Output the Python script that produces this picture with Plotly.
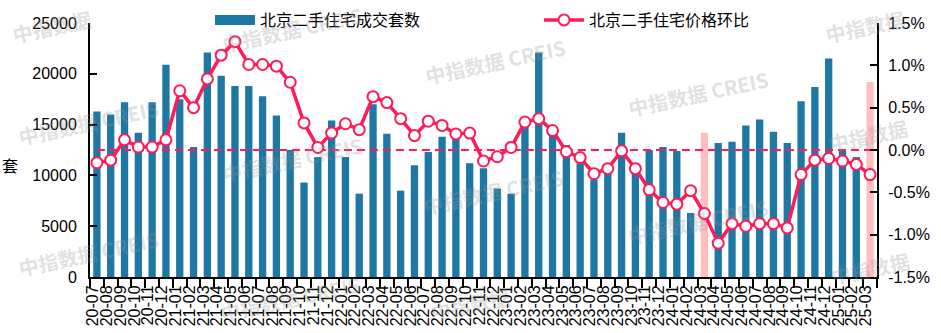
import plotly.graph_objects as go

# Month labels (YY-MM)
months = [
    "20-07", "20-08", "20-09", "20-10", "20-11", "20-12",
    "21-01", "21-02", "21-03", "21-04", "21-05", "21-06",
    "21-07", "21-08", "21-09", "21-10", "21-11", "21-12",
    "22-01", "22-02", "22-03", "22-04", "22-05", "22-06",
    "22-07", "22-08", "22-09", "22-10", "22-11", "22-12",
    "23-01", "23-02", "23-03", "23-04", "23-05", "23-06",
    "23-07", "23-08", "23-09", "23-10", "23-11", "23-12",
    "24-01", "24-02", "24-03", "24-04", "24-05", "24-06",
    "24-07", "24-08", "24-09", "24-10", "24-11", "24-12",
    "25-01", "25-02", "25-03",
]

# 北京二手住宅成交套数 (套)
volumes = [
    16300, 16000, 17200, 14200, 17200, 20900,
    17500, 12800, 22100, 19800, 18800, 18800,
    17800, 15900, 12500, 9300, 11800, 15400,
    11800, 8200, 17000, 14100, 8500, 11000,
    12300, 13800, 13700, 11200, 10700, 8700,
    8200, 14900, 22100, 13900, 13000, 11200,
    9600, 10600, 14200, 11000, 12500, 12800,
    12400, 6300, 14200, 13200, 13300, 14900,
    15500, 14300, 13200, 17300, 18700, 21500,
    12400, 11800, 19200,
]

# 北京二手住宅价格环比 (%)
mom_pct = [
    -0.15, -0.12, 0.12, 0.035, 0.035, 0.12,
    0.70, 0.50, 0.84, 1.12, 1.28, 1.01,
    1.01, 0.99, 0.80, 0.32, 0.03, 0.20,
    0.31, 0.24, 0.63, 0.56, 0.37, 0.17,
    0.34, 0.29, 0.19, 0.20, -0.13, -0.08,
    0.03, 0.33, 0.37, 0.23, -0.02, -0.09,
    -0.28, -0.22, -0.01, -0.22, -0.47, -0.62,
    -0.64, -0.48, -0.75, -1.10, -0.87, -0.90,
    -0.87, -0.87, -0.92, -0.29, -0.12, -0.10,
    -0.13, -0.17, -0.29,
]

# Same-month bars shown in a lighter colour
highlight_months = ["24-03", "25-03"]

left_ticks = [0, 5000, 10000, 15000, 20000, 25000]
left_tick_text = ["0", "5000", "10000", "15000", "20000", "25000"]
right_ticks = [-1.5, -1.0, -0.5, 0.0, 0.5, 1.0, 1.5]
right_tick_text = ["-1.5%", "-1.0%", "-0.5%", "0.0%", "0.5%", "1.0%", "1.5%"]

BLUE = "#1F78A3"
PINK = "#FFBFBF"
RED = "#FF1A58"
FONT = "Liberation Sans, Arial, Noto Sans CJK SC, sans-serif"
CJK = "Noto Sans CJK SC, Liberation Sans, sans-serif"

W, H = 941, 333
M_L, M_R, M_T, M_B = 90, 64, 23, 56
PW, PH = W - M_L - M_R, H - M_T - M_B


def px_to_paper(px, py):
    return (px - M_L) / PW, (H - M_B - py) / PH


bar_colors = [PINK if m in highlight_months else BLUE for m in months]

fig = go.Figure()

fig.add_trace(go.Bar(
    x=months, y=volumes, yaxis="y", width=0.53,
    marker=dict(color=bar_colors, line_width=0),
    showlegend=False, name="北京二手住宅成交套数",
))

# zero reference on the price axis
fig.add_trace(go.Scatter(
    x=months, y=[0] * len(months), yaxis="y2", mode="lines",
    line=dict(color=RED, width=2, dash="8px,5px"),
    showlegend=False, hoverinfo="skip",
))

fig.add_trace(go.Scatter(
    x=months, y=mom_pct, yaxis="y2", mode="lines+markers",
    name="北京二手住宅价格环比", legend="legend2",
    line=dict(color=RED, width=3.5),
    marker=dict(symbol="circle", size=11, color="white",
                line=dict(color=RED, width=2)),
))

# wide legend key for the bar series
fig.add_trace(go.Scatter(
    x=[None], y=[None], yaxis="y", mode="lines",
    name="北京二手住宅成交套数", legend="legend",
    line=dict(color=BLUE, width=10),
))

# watermark grid: (centre x, centre y, text) in page pixels
WM_FULL = "<b>中指数据 CREIS</b>"
WM_SHORT = "<b>中指数据</b>"
watermarks = [
    (52, 27, WM_SHORT), (88, 122, WM_FULL), (88, 253, WM_FULL),
    (292, 30, WM_FULL), (292, 160, WM_FULL), (290, 298, WM_FULL),
    (495, 62, WM_FULL), (494, 192, WM_FULL), (470, 304, WM_SHORT),
    (698, 94, WM_FULL), (698, 222, WM_FULL),
    (865, 27, WM_SHORT), (868, 135, WM_SHORT), (870, 268, WM_SHORT),
]
annotations = []
for cx, cy, txt in watermarks:
    ax_, ay_ = px_to_paper(cx, cy)
    annotations.append(dict(
        text=txt, x=ax_, y=ay_, xref="paper", yref="paper",
        xanchor="center", yanchor="middle", showarrow=False, textangle=-12,
        font=dict(family=CJK, size=20, color="rgba(150,150,150,0.30)"),
    ))

tx, ty = px_to_paper(10, 165)
annotations.append(dict(
    text="套", x=tx, y=ty, xref="paper", yref="paper",
    xanchor="center", yanchor="middle", showarrow=False,
    font=dict(family=CJK, size=16, color="black"),
))

l1x, l1y = px_to_paper(210, 3)
l2x, l2y = px_to_paper(539, 3)

fig.update_layout(
    width=W, height=H,
    margin=dict(l=M_L, r=M_R, t=M_T, b=M_B, autoexpand=False),
    paper_bgcolor="white", plot_bgcolor="white",
    font=dict(family=FONT, size=16, color="black"),
    legend=dict(x=l1x, y=l1y, xanchor="left", yanchor="top",
                orientation="h", bgcolor="rgba(0,0,0,0)", itemwidth=40,
                font=dict(family=CJK, size=16, color="black")),
    legend2=dict(x=l2x, y=l2y, xanchor="left", yanchor="top",
                 orientation="h", bgcolor="rgba(0,0,0,0)", itemwidth=40,
                 font=dict(family=CJK, size=16, color="black")),
    xaxis=dict(
        type="category", categoryorder="array", categoryarray=months,
        range=[-0.5, len(months) - 0.5], automargin=False,
        tickmode="linear", tick0=0, dtick=1,
        tickangle=-90, tickson="boundaries", ticks="outside", ticklen=9,
        tickwidth=2, tickcolor="black", ticklabelshift=-4,
        showline=True, linecolor="black", linewidth=2,
        showgrid=False, zeroline=False,
        tickfont=dict(family=FONT, size=16, color="black"),
    ),
    yaxis=dict(
        range=[0, 25000], tickmode="array", tickvals=left_ticks,
        ticktext=left_tick_text, ticks="inside", ticklen=7,
        tickwidth=2, tickcolor="black", automargin=False,
        showline=True, linecolor="black", linewidth=2,
        showgrid=False, zeroline=False, ticklabelstandoff=8,
        tickfont=dict(family=FONT, size=16, color="black"),
    ),
    yaxis2=dict(
        overlaying="y", side="right", range=[-1.5, 1.5], automargin=False,
        tickmode="array", tickvals=right_ticks, ticktext=right_tick_text,
        ticks="inside", ticklen=7, tickwidth=2, tickcolor="black",
        showline=True, linecolor="black", linewidth=2,
        showgrid=False, zeroline=False, ticklabelstandoff=6,
        tickfont=dict(family=FONT, size=16, color="black"),
    ),
    annotations=annotations,
)

fig.write_html("out.html")
